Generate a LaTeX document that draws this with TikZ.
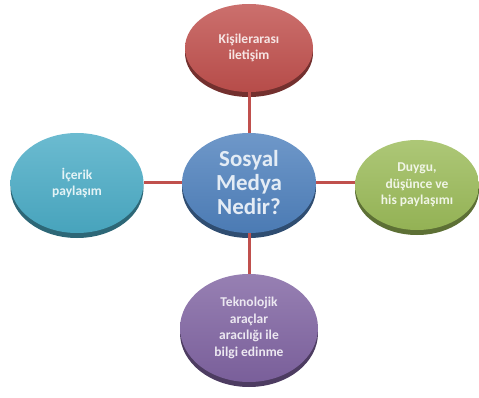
\documentclass[tikz,border=0pt]{standalone}
\usepackage{fontspec}
\setmainfont{Carlito}
\usetikzlibrary{shapes.geometric}

\definecolor{kred}{HTML}{C0504D}
\definecolor{kblue}{HTML}{4F81BD}
\definecolor{kgreen}{HTML}{9BBB59}
\definecolor{kcyan}{HTML}{4BACC6}
\definecolor{kpurple}{HTML}{8064A2}

\tikzset{
  disc/.style={ellipse, draw=none, inner sep=0pt, align=center,
    text=white!85!#1, font=\bfseries\fontsize{13.5}{16.5}\selectfont,
    preaction={fill=#1!60!black, transform canvas={yshift=-5pt}},
    top color=#1!82!white, bottom color=#1!95!black},
  link/.style={draw=kred, line width=3pt}
}

\begin{document}
\begin{tikzpicture}[x=1pt,y=-1pt]
  \useasboundingbox (0,0) rectangle (479,398);

      \begin{scope}[every node/.style={minimum width=128pt}]
        \node[disc=kred, minimum height=88pt]   (kisi)   at (249,48)  {Kişilerarası\\iletişim};
        \node[disc=kblue, minimum width=134pt, minimum height=100pt,
              font=\bfseries\fontsize{23}{24}\selectfont] (sosyal) at (249,183) {Sosyal\\Medya\\Nedir?};
        \node[disc=kgreen, minimum width=124pt, minimum height=90pt] (duygu) at (417,185) {Duygu,\\düşünce ve\\his paylaşımı};
        \node[disc=kcyan, minimum width=133pt, minimum height=100pt]  (icerik) at (77,183)  {İçerik\\paylaşım};
        \node[disc=kpurple, minimum width=138pt, minimum height=108pt] (tekno) at (249,328) {Teknolojik\\araçlar\\aracılığı ile\\bilgi edinme};
      \end{scope}

      \begin{scope}[every edge/.style={link}]
        \path (kisi)   edge (sosyal);
        \path (icerik) edge (sosyal);
        \path (sosyal) edge (sosyal -| duygu.west);
        \path (sosyal) edge (tekno);
      \end{scope}

\end{tikzpicture}
\end{document}
